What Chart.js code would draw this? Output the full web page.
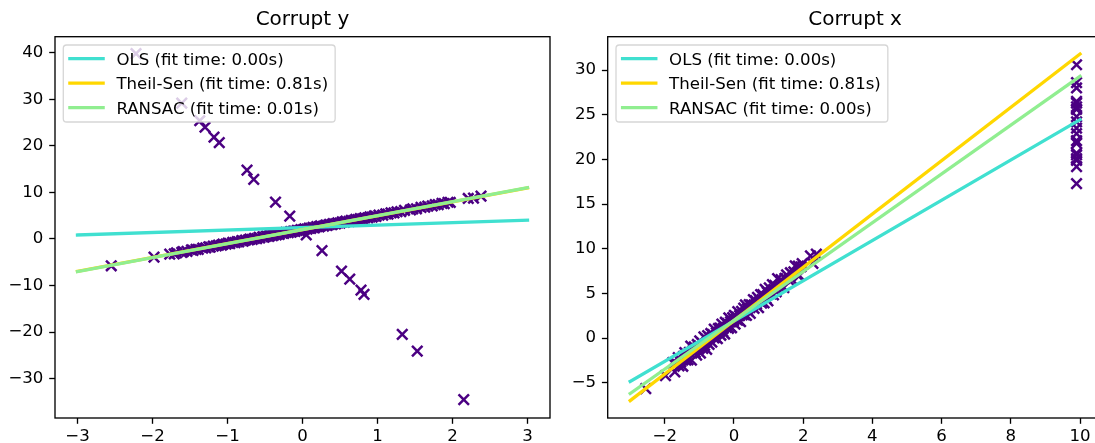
<!DOCTYPE html>
<html><head><meta charset="utf-8">
<script src="https://cdn.jsdelivr.net/npm/chart.js@4.4.1/dist/chart.umd.min.js"></script>
<style>
html,body{margin:0;padding:0;background:#fff;overflow:hidden;width:1095px;height:443px;position:relative;}
canvas{position:absolute;top:0;}
#c1{left:0;} #c2{left:552px;}
</style></head><body>
<canvas id="c1" width="552" height="443"></canvas>
<canvas id="c2" width="560" height="443"></canvas>
<script>
// ---- data ----
const inlierX = [-2.55, -1.98, -1.77, -1.71, -1.68, -1.61, -1.59, -1.54, -1.48, -1.46,
  -1.42, -1.39, -1.33, -1.29, -1.25, -1.23, -1.19, -1.15, -1.12, -1.08,
  -1.06, -1.02, -0.99, -0.97, -0.93, -0.90, -0.87, -0.85, -0.81, -0.79,
  -0.76, -0.72, -0.70, -0.67, -0.64, -0.61, -0.58, -0.57, -0.53, -0.51,
  -0.48, -0.45, -0.43, -0.40, -0.38, -0.35, -0.33, -0.31, -0.27, -0.25,
  -0.22, -0.19, -0.16, -0.15, -0.12, -0.10, -0.07, -0.04, -0.02, 0.01,
  0.03, 0.06, 0.09, 0.11, 0.14, 0.16, 0.19, 0.22, 0.24, 0.28,
  0.31, 0.33, 0.36, 0.39, 0.41, 0.44, 0.47, 0.50, 0.53, 0.56,
  0.58, 0.62, 0.65, 0.68, 0.71, 0.74, 0.77, 0.80, 0.83, 0.87,
  0.90, 0.93, 0.96, 0.98, 1.02, 1.07, 1.11, 1.14, 1.18, 1.22,
  1.26, 1.31, 1.36, 1.44, 1.47, 1.52, 1.58, 1.63, 1.67, 1.73,
  1.77, 1.81, 1.86, 1.89, 1.94, 1.97, 2.21, 2.28, 2.38];
// y of inliers in the "Corrupt y" panel
const inlierYleft = [-5.75, -3.90, -3.25, -3.18, -2.97, -2.88, -2.70, -2.66, -2.35, -2.44,
  -2.21, -2.25, -1.94, -1.90, -1.68, -1.77, -1.52, -1.49, -1.30, -1.31,
  -1.11, -1.09, -0.90, -0.99, -0.74, -0.76, -0.55, -0.60, -0.37, -0.45,
  -0.22, -0.21, -0.03, -0.08, 0.14, 0.10, 0.33, 0.22, 0.47, 0.40,
  0.63, 0.58, 0.78, 0.73, 0.92, 0.88, 1.08, 1.00, 1.26, 1.18,
  1.41, 1.36, 1.59, 1.48, 1.71, 1.62, 1.86, 1.80, 2.01, 1.96,
  2.17, 2.11, 2.34, 2.26, 2.49, 2.41, 2.64, 2.59, 2.80, 2.77,
  3.00, 2.92, 3.15, 3.10, 3.31, 3.25, 3.48, 3.43, 3.66, 3.61,
  3.82, 3.79, 4.02, 3.97, 4.20, 4.15, 4.38, 4.33, 4.56, 4.54,
  4.77, 4.72, 4.95, 4.87, 5.13, 5.14, 5.40, 5.35, 5.61, 5.59,
  5.85, 5.86, 6.15, 6.25, 6.48, 6.49, 6.81, 6.82, 7.08, 7.12,
  7.38, 7.36, 7.65, 7.60, 7.89, 7.84, 8.70, 8.77, 9.21];
// y of inliers in the "Corrupt x" panel (band looks wider there)
const inlierYright = [-5.65, -4.20, -2.75, -3.78, -2.77, -2.18, -3.10, -2.66, -3.15, -2.04,
  -1.61, -2.45, -2.44, -1.60, -0.88, -2.47, -1.42, -0.99, -1.60, -1.91,
  -0.71, -1.19, -0.30, -1.69, -0.54, -1.16, 0.15, -0.80, -0.07, -1.25,
  0.28, -0.71, 0.07, 0.52, -0.46, 0.40, 0.03, 1.02, 0.07, 0.60,
  -0.07, 1.08, 0.68, 1.13, 0.32, 1.58, 0.78, 1.10, 0.46, 1.78,
  1.21, 1.66, 1.09, 2.28, 1.31, 1.82, 1.16, 2.30, 1.91, 2.56,
  1.57, 2.41, 2.04, 2.96, 1.99, 2.51, 1.84, 2.99, 2.60, 3.37,
  2.60, 3.72, 2.55, 3.30, 3.01, 3.75, 2.78, 3.73, 3.56, 4.31,
  3.32, 4.19, 3.82, 4.57, 3.40, 4.25, 4.88, 3.93, 4.86, 3.94,
  5.47, 4.42, 5.15, 4.17, 5.63, 4.94, 6.00, 4.85, 5.91, 5.19,
  6.65, 5.76, 6.55, 5.65, 6.68, 7.09, 6.51, 7.32, 6.58, 7.42,
  8.08, 7.16, 8.05, 7.00, 7.99, 8.34, 9.20, 8.37, 9.41];

// Corrupt y: outliers
const outYPlotX = [-2.22, -1.61, -1.37, -1.30, -1.18, -1.11, -0.74, -0.65, -0.36, -0.17,
  0.05, 0.26, 0.52, 0.63, 0.78, 0.82, 1.33, 1.53, 2.15];
const outYPlotY = [39.8, 29.2, 25.4, 24.0, 21.9, 20.7, 14.8, 12.8, 7.9, 4.9,
  0.9, -2.5, -6.9, -8.6, -11.0, -11.9, -20.5, -24.1, -34.5];

// Corrupt x: outliers
const outXPlotX = [9.9, 9.9, 9.9, 9.9, 9.9, 9.9, 9.9, 9.9, 9.9, 9.9,
  9.9, 9.9, 9.9, 9.9, 9.9, 9.9, 9.9, 9.9, 9.9];
const outXPlotY = [17.3, 19.2, 19.9, 20.1, 20.5, 20.7, 21.8, 22.1, 22.9, 23.5,
  24.2, 24.8, 25.6, 25.9, 26.3, 26.5, 28.0, 28.6, 30.6];

// fitted lines (endpoints)
const lineXY = [-3, 3];
const olsY_Y = [0.85, 4.05];
const theilY_Y = [-6.95, 10.95];
const ransacY_Y = [-7.0, 11.0];

const lineXX = [-3, 10];
const olsX_Y = [-4.85, 24.45];
const theilX_Y = [-7.0, 31.8];
const ransacX_Y = [-6.2, 29.3];

const labelsY = ['OLS (fit time: 0.00s)', 'Theil-Sen (fit time: 0.81s)', 'RANSAC (fit time: 0.01s)'];
const labelsX = ['OLS (fit time: 0.00s)', 'Theil-Sen (fit time: 0.81s)', 'RANSAC (fit time: 0.00s)'];

const xTicksY = [-3, -2, -1, 0, 1, 2, 3];
const yTicksY = [-30, -20, -10, 0, 10, 20, 30, 40];
const xTicksX = [-2, 0, 2, 4, 6, 8, 10];
const yTicksX = [-5, 0, 5, 10, 15, 20, 25, 30];

// ---- rendering ----
const FONT = "'DejaVu Sans', sans-serif";
Chart.defaults.font.family = FONT;
Chart.defaults.color = '#000';

const fmt = v => v < 0 ? '\u2212' + String(-v) : String(v);

const mplDecor = {
  id: 'mplDecor',
  afterDatasetsDraw(chart) {
    const ctx = chart.ctx, ca = chart.chartArea;
    ctx.save();
    ctx.strokeStyle = '#000';
    ctx.lineWidth = 1.33;
    ctx.strokeRect(ca.left, ca.top, ca.right - ca.left, ca.bottom - ca.top);
    const items = chart.data.datasets.filter(d => d.legendRank !== undefined)
      .sort((a, b) => a.legendRank - b.legendRank);
    ctx.font = '16.6px ' + FONT;
    const maxW = Math.max(...items.map(d => ctx.measureText(d.label).width));
    const bx = ca.left + 8.3, by = ca.top + 8.3, bw = 53.1 + maxW + 7, bh = 77, r = 3.3;
    ctx.beginPath();
    ctx.moveTo(bx + r, by);
    ctx.lineTo(bx + bw - r, by); ctx.arcTo(bx + bw, by, bx + bw, by + r, r);
    ctx.lineTo(bx + bw, by + bh - r); ctx.arcTo(bx + bw, by + bh, bx + bw - r, by + bh, r);
    ctx.lineTo(bx + r, by + bh); ctx.arcTo(bx, by + bh, bx, by + bh - r, r);
    ctx.lineTo(bx, by + r); ctx.arcTo(bx, by, bx + r, by, r);
    ctx.closePath();
    ctx.fillStyle = 'rgba(255,255,255,0.8)';
    ctx.fill();
    ctx.strokeStyle = 'rgba(204,204,204,0.8)';
    ctx.lineWidth = 1.3;
    ctx.stroke();
    items.forEach((d, i) => {
      const cy = by + 13.6 + i * 24.5;
      ctx.beginPath();
      ctx.lineCap = 'square';
      ctx.strokeStyle = d.borderColor;
      ctx.lineWidth = 3.33;
      ctx.moveTo(bx + 6.6, cy); ctx.lineTo(bx + 39.8, cy);
      ctx.stroke();
      ctx.fillStyle = '#000';
      ctx.textBaseline = 'alphabetic';
      ctx.textAlign = 'left';
      ctx.fillText(d.label, bx + 53.1, cy + 6.05);
    });
    ctx.restore();
  }
};

function pts(xs, ys) { return xs.map((x, i) => ({x: x, y: ys[i]})); }

function lineDs(label, xs, ys, color, rank) {
  return {label: label, data: pts(xs, ys), showLine: true, borderColor: color, backgroundColor: color,
    borderWidth: 3.33, borderCapStyle: 'square', pointRadius: 0, pointHoverRadius: 0,
    order: 3 - rank, legendRank: rank};
}

function scale(axis, min, max, ticksArr, size) {
  return {
    type: 'linear', min: min, max: max, bounds: 'data',
    position: axis === 'x' ? 'bottom' : 'left',
    afterBuildTicks: s => { s.ticks = ticksArr.map(v => ({value: v})); },
    afterFit: s => { if (axis === 'x') s.height = size; else s.width = size; },
    ticks: {autoSkip: false, maxRotation: 0, minRotation: 0, padding: axis === 'x' ? 3.0 : 5.8,
      color: '#000', font: {size: 16.6, family: FONT}, callback: v => fmt(v)},
    grid: {drawOnChartArea: false, drawTicks: true, tickLength: 5.8, tickWidth: 1.33, tickColor: '#000', color: '#000'},
    border: {display: false}
  };
}

function makeChart(id, title, ptsX, ptsY, outX, outY, lx, ols, ts, rs, labels, xr, yr, xt, yt, yw, padR) {
  new Chart(document.getElementById(id), {
    type: 'scatter',
    data: {datasets: [
      {label: 'data', data: pts(ptsX.concat(outX), ptsY.concat(outY)), pointStyle: 'crossRot',
        pointRadius: 7.4, pointHoverRadius: 7.4, borderWidth: 2.5, pointBorderWidth: 2.5,
        borderColor: '#4B0082', backgroundColor: '#4B0082', order: 10},
      lineDs(labels[0], lx, ols, '#40E0D0', 0),
      lineDs(labels[1], lx, ts, '#FFD700', 1),
      lineDs(labels[2], lx, rs, '#90EE90', 2)
    ]},
    options: {
      responsive: false, animation: false, devicePixelRatio: 1, events: [],
      layout: {autoPadding: false, padding: {left: 0, right: padR, top: 0, bottom: 0}},
      plugins: {
        legend: {display: false}, tooltip: {enabled: false},
        title: {display: true, text: title, fullSize: false, color: '#000',
          font: {size: 20, weight: 'normal', family: FONT, lineHeight: 1.2},
          padding: {top: 7.8, bottom: 4.9}}
      },
      scales: {
        x: scale('x', xr[0], xr[1], xt, 25),
        y: scale('y', yr[0], yr[1], yt, yw)
      }
    },
    plugins: [mplDecor]
  });
}

makeChart('c1', 'Corrupt y', inlierX, inlierYleft, outYPlotX, outYPlotY, lineXY, olsY_Y, theilY_Y, ransacY_Y,
  labelsY, [-3.3, 3.3], [-38.45, 43.45], xTicksY, yTicksY, 55, 2);
makeChart('c2', 'Corrupt x', inlierX, inlierYright, outXPlotX, outXPlotY, lineXX, olsX_Y, theilX_Y, ransacX_Y,
  labelsX, [-3.65, 10.65], [-8.94, 33.74], xTicksX, yTicksX, 55.7, 9.5);
</script>
</body></html>
